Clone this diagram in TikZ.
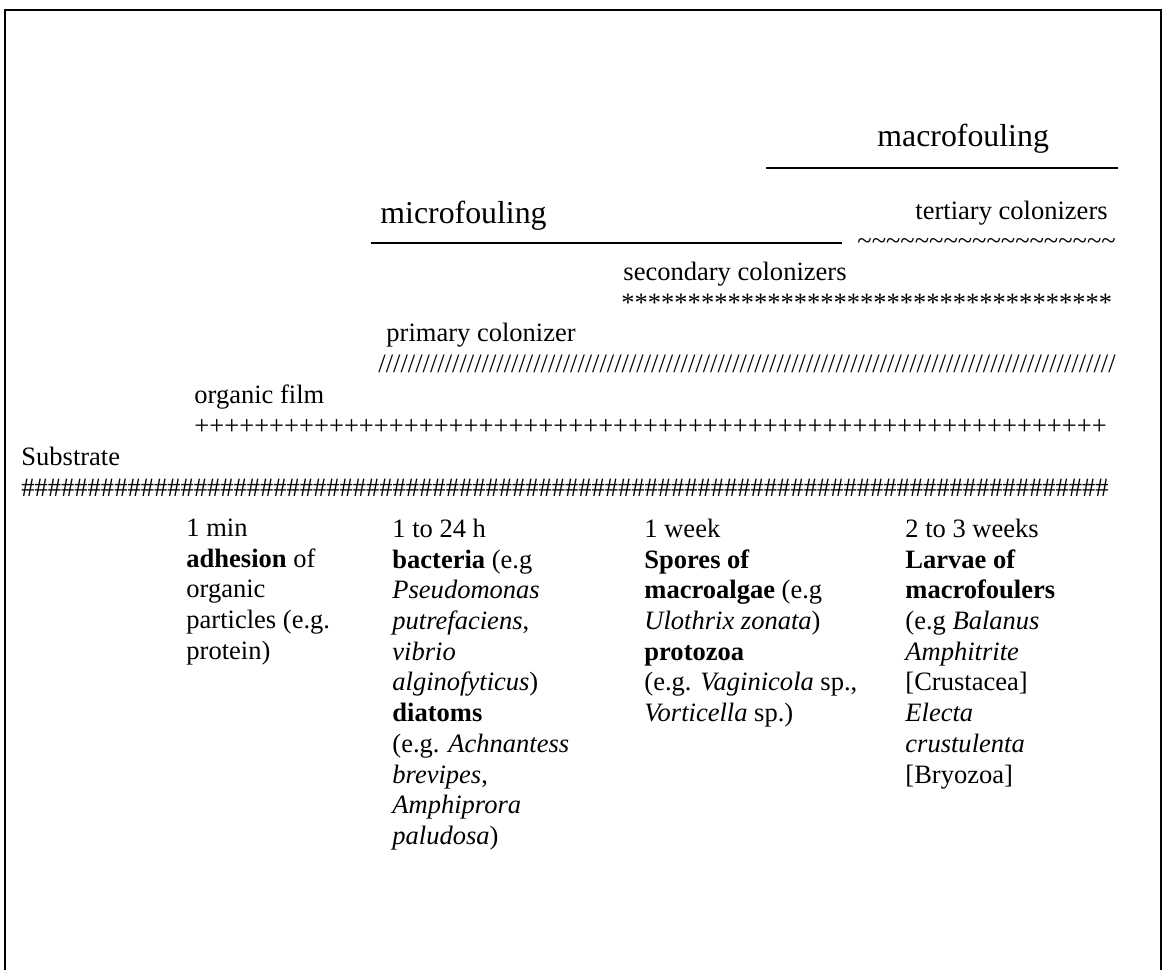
\documentclass[tikz,border=0pt]{standalone}
\usepackage{fontspec}
\setmainfont{Liberation Serif}
\usetikzlibrary{positioning}
\newcommand{\rowof}[2]{\foreach \k in {1,...,#1}{#2}}

\begin{document}
\begin{tikzpicture}[x=0.4525pt,y=-0.4525pt,
  txt/.style={anchor=base west,inner sep=0pt,font=\fontsize{12}{13.9}\selectfont},
  big/.style={txt,font=\fontsize{14.4}{17}\selectfont},
  col/.style={txt,anchor=north west,align=left,execute at begin node=\strut},
  rule/.style={line width=0.9pt}]
\useasboundingbox (0,0) rectangle (1163,970);
% frame, open at the bottom
\draw[rule] (5,970) -- (5,10) -- (1161,10) -- (1161,970);
% fouling stages
\node[big] (macro) at (877,147) {macrofouling};
\draw[rule] (766,168) -- (1118,168);
\node[big] (micro) at (380,224) {microfouling};
\draw[rule] (371,243) -- (842,243);
\node[txt] (tert) at (915,220) {tertiary colonizers};
\node[txt] (tildes) at (857,250) {\rowof{18}{\textasciitilde}};
\node[txt] (sec) at (623,281) {secondary colonizers};
\node[txt] (stars) at (621,312) {\rowof{37}{*}};
\node[txt] (prim) at (386,342) {primary colonizer};
\node[txt] (slashes) at (378,373) {\rowof{100}{/}};
\node[txt] (film) at (194,404) {organic film};
\node[txt] (plus) at (194,435) {\rowof{61}{+}};
\node[txt] (substr) at (21,466) {Substrate};
\node[txt] (hashes) at (21,497) {\rowof{82}{\#}};
% time steps
\node[col] (t1) at (186,518.5) {1 min\\ \textbf{adhesion} of\\ organic\\ particles (e.g.\\ protein)};
\node[col] (t2) at (392,518.5) {1 to 24 h\\ \textbf{bacteria} (e.g\\ \textit{Pseudomonas}\\ \textit{putrefaciens},\\ \textit{vibrio}\\ \textit{alginofyticus})\\ \textbf{diatoms}\\ (e.g. \textit{Achnantess}\\ \textit{brevipes},\\ \textit{Amphiprora}\\ \textit{paludosa})};
\node[col] (t3) at (644,518.5) {1 week\\ \textbf{Spores of}\\ \textbf{macroalgae} (e.g\\ \textit{Ulothrix zonata})\\ \textbf{protozoa}\\ (e.g. \textit{Vaginicola} sp.,\\ \textit{Vorticella} sp.)};
\node[col] (t4) at (905,518.5) {2 to 3 weeks\\ \textbf{Larvae of}\\ \textbf{macrofoulers}\\ (e.g \textit{Balanus}\\ \textit{Amphitrite}\\ {[Crustacea]}\\ \textit{Electa}\\ \textit{crustulenta}\\ {[Bryozoa]}};
\end{tikzpicture}
\end{document}
